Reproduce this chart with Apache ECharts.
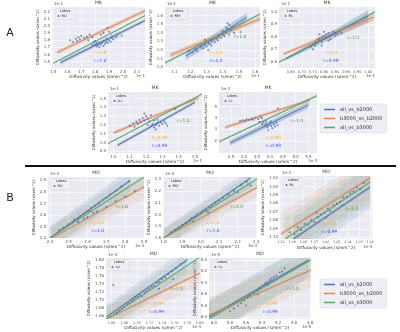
<!DOCTYPE html>
<html>
<head>
<meta charset="utf-8">
<script src="https://cdn.jsdelivr.net/npm/echarts@6/dist/echarts.min.js"></script>
<style>
html,body{margin:0;padding:0;background:#fff}
#chart{width:400px;height:332px}
</style>
</head>
<body>
<div id="chart"></div>
<script>
// ---- data (series order: all_vs_b2000, b3000_vs_b2000, all_vs_b3000)
var seriesNames = ['all_vs_b2000', 'b3000_vs_b2000', 'all_vs_b3000'];

// fits: [x0, y0, x1, y1, ciHalf0, ciHalf1, piHalf]
var a1Points = [[1.62,1.80],[1.64,1.78],[1.66,1.82],[1.67,1.79],[1.68,1.84],[1.69,1.81],[1.70,1.86],[1.72,1.83],[1.74,1.85],[1.76,1.88],[1.75,1.80],[1.78,1.84],[1.79,1.78],[1.80,1.74],[1.81,1.76],[1.81,1.71],[1.82,1.73],[1.83,1.77],[1.83,1.70],[1.84,1.74],[1.85,1.76],[1.86,1.72],[1.86,1.79],[1.87,1.75],[1.88,1.78],[1.88,1.82],[1.89,1.76],[1.90,1.80],[1.90,1.92],[1.91,1.78],[1.92,1.83],[1.89,1.97],[1.93,1.81],[1.95,1.84],[1.84,1.88],[1.86,1.90],[1.78,1.73],[1.80,1.79]];
var a1Fits = [[1.55,1.487,2.157,2.076,0.03,0.025,0],[1.526,1.626,2.157,2.214,0.028,0.028,0],[1.50,1.478,2.157,2.145,0.012,0.012,0]];
var a1R = ['1.0','1.0','1.0'];
var a1XTicks = [1.5,1.6,1.7,1.8,1.9,2.0,2.1];
var a1YTicks = [1.5,1.6,1.7,1.8,1.9,2.0,2.1,2.2];

var a2Points = [[1.19,1.19],[1.21,1.17],[1.23,1.21],[1.24,1.19],[1.26,1.23],[1.27,1.25],[1.28,1.22],[1.29,1.26],[1.30,1.24],[1.31,1.28],[1.32,1.27],[1.33,1.30],[1.33,1.25],[1.34,1.32],[1.35,1.29],[1.36,1.33],[1.37,1.35],[1.37,1.31],[1.38,1.37],[1.39,1.34],[1.40,1.38],[1.40,1.42],[1.41,1.36],[1.42,1.40],[1.42,1.46],[1.43,1.44],[1.44,1.38],[1.44,1.49],[1.45,1.43],[1.46,1.47],[1.47,1.40],[1.43,1.51],[1.51,1.41],[1.29,1.32],[1.31,1.20]];
var a2Fits = [[1.17,1.13,1.55,1.58,0.05,0.05,0],[1.075,1.14,1.631,1.561,0.03,0.03,0],[1.042,1.049,1.631,1.618,0.015,0.015,0]];
var a2R = ['1.0','1.0','1.0'];
var a2XTicks = [1.1,1.2,1.3,1.4,1.5,1.6];
var a2YTicks = [1.0,1.1,1.2,1.3,1.4,1.5,1.6];

var a3Points = [[0.74,0.72],[0.75,0.74],[0.76,0.73],[0.76,0.76],[0.77,0.75],[0.77,0.78],[0.78,0.77],[0.78,0.79],[0.79,0.76],[0.79,0.80],[0.80,0.78],[0.80,0.81],[0.81,0.79],[0.81,0.82],[0.82,0.80],[0.82,0.83],[0.83,0.81],[0.83,0.78],[0.84,0.82],[0.84,0.84],[0.85,0.81],[0.85,0.83],[0.86,0.82],[0.87,0.84],[0.80,0.84],[0.78,0.82],[0.82,0.77],[0.75,0.70],[0.88,0.83],[0.79,0.73]];
var a3Fits = [[0.63,0.625,1.0,0.965,0.01,0.05,0],[0.617,0.662,1.025,0.959,0.012,0.03,0],[0.597,0.597,1.03,1.0,0.01,0.01,0]];
var a3R = ['0.99','1.0','1.0'];
var a3XTicks = [0.65,0.70,0.75,0.80,0.85,0.90,0.95,1.00];
var a3YTicks = [0.6,0.7,0.8,0.9,1.0];

var a4Points = [[1.10,1.19],[1.12,1.22],[1.13,1.18],[1.14,1.24],[1.15,1.21],[1.16,1.26],[1.17,1.23],[1.18,1.28],[1.19,1.25],[1.20,1.30],[1.21,1.27],[1.22,1.24],[1.21,1.20],[1.23,1.19],[1.24,1.21],[1.25,1.17],[1.26,1.20],[1.27,1.22],[1.28,1.19],[1.29,1.23],[1.30,1.21],[1.31,1.24],[1.32,1.22],[1.25,1.25],[1.27,1.26],[1.23,1.31],[1.38,1.38],[1.19,1.33],[1.33,1.19],[1.26,1.15]];
var a4Fits = [[1.025,0.97,1.5,1.457,0.02,0.02,0],[1.0,1.109,1.52,1.506,0.02,0.02,0],[0.967,0.989,1.543,1.55,0.01,0.01,0]];
var a4R = ['0.99','0.99','1.0'];
var a4XTicks = [1.0,1.1,1.2,1.3,1.4,1.5];
var a4YTicks = [0.9,1.0,1.1,1.2,1.3,1.4,1.5];

var a5Points = [[2.85,3.75],[2.95,3.80],[3.05,3.72],[3.10,3.88],[3.20,3.82],[3.30,3.95],[3.35,3.85],[3.45,4.02],[3.55,3.92],[3.65,4.10],[3.70,3.98],[3.60,3.65],[3.70,3.45],[3.75,3.60],[3.80,3.30],[3.85,3.50],[3.90,3.20],[3.95,3.40],[4.00,3.55],[4.05,3.30],[4.10,3.10],[4.15,3.45],[4.20,3.25],[4.25,3.60],[4.30,3.40],[4.32,4.85],[3.95,2.95],[4.05,3.70],[3.85,3.75]];
var a5Fits = [[2.46,1.8,5.5,5.16,0.25,0.3,0],[2.27,3.17,5.56,5.6,0.15,0.15,0],[2.035,1.91,5.83,5.97,0.1,0.1,0]];
var a5R = ['0.99','0.99','1.0'];
var a5XTicks = [2.5,3.0,3.5,4.0,4.5,5.0,5.5];
var a5YTicks = [2,3,4,5];

var b1Points = [[2.45,2.47],[2.47,2.49],[2.50,2.52],[2.52,2.54],[2.53,2.56],[2.55,2.57],[2.56,2.59],[2.58,2.61],[2.60,2.63],[2.61,2.64],[2.62,2.66],[2.64,2.68],[2.66,2.70],[2.68,2.73],[2.70,2.75],[2.72,2.78],[2.75,2.81],[2.78,2.85],[2.82,2.89],[2.55,2.54],[2.60,2.58],[2.65,2.63],[2.70,2.67],[2.75,2.72],[2.80,2.76],[2.85,2.81],[2.58,2.57],[2.63,2.62]];
var b1Fits = [[2.4,2.4,2.827,2.9,0.008,0.01,0.1],[2.41,2.4,2.9,2.844,0.008,0.01,0.1],[2.4,2.4,2.9,2.93,0.006,0.008,0.1]];
var b1R = ['1.0','1.0','1.0'];
var b1XTicks = [2.4,2.5,2.6,2.7,2.8,2.9];
var b1YTicks = [2.4,2.5,2.6,2.7,2.8,2.9];

var b2Points = [[1.84,1.85],[1.86,1.87],[1.88,1.89],[1.90,1.91],[1.92,1.93],[1.94,1.95],[1.95,1.97],[1.97,1.98],[1.98,2.00],[2.00,2.01],[2.01,2.03],[2.03,2.04],[2.05,2.06],[2.06,2.08],[2.08,2.10],[2.10,2.12],[2.12,2.14],[2.15,2.17],[2.18,2.20],[2.22,2.25],[2.25,2.28],[2.27,2.25],[2.20,2.19],[2.04,2.02],[1.96,1.94]];
var b2Fits = [[1.8,1.8,2.27,2.312,0.008,0.01,0.08],[1.8,1.8,2.305,2.23,0.008,0.01,0.08],[1.8,1.8,2.305,2.305,0.006,0.008,0.08]];
var b2R = ['1.0','1.0','1.0'];
var b2XTicks = [1.8,1.9,2.0,2.1,2.2,2.3];
var b2YTicks = [1.8,1.9,2.0,2.1,2.2,2.3];

var b3Points = [[1.092,1.094],[1.088,1.096],[1.085,1.088],[1.082,1.091],[1.079,1.084],[1.076,1.085],[1.073,1.080],[1.070,1.082],[1.067,1.076],[1.064,1.073],[1.061,1.071],[1.058,1.066],[1.056,1.069],[1.053,1.062],[1.050,1.060],[1.047,1.058],[1.044,1.053],[1.041,1.052],[1.038,1.048],[1.035,1.046],[1.032,1.041],[1.029,1.043],[1.026,1.036],[1.060,1.077],[1.045,1.062],[1.068,1.071]];
var b3Fits = [[1.0889,1.102,1.02,1.0407,0.002,0.002,0.025],[1.10,1.096,1.02,1.03,0.002,0.002,0.025],[1.0964,1.102,1.02,1.0347,0.0015,0.0015,0.025]];
var b3R = ['0.99','1.0','1.0'];
var b3XTicks = [1.02,1.03,1.04,1.05,1.06,1.07,1.08,1.09,1.10];
var b3YTicks = [1.03,1.04,1.05,1.06,1.07,1.08,1.09,1.10];

var b4Points = [[1.6625,1.737],[1.668,1.667],[1.672,1.673],[1.676,1.678],[1.680,1.683],[1.684,1.689],[1.688,1.692],[1.692,1.697],[1.695,1.700],[1.698,1.706],[1.702,1.708],[1.705,1.713],[1.708,1.710],[1.712,1.718],[1.716,1.722],[1.720,1.727],[1.724,1.732],[1.728,1.735],[1.732,1.742],[1.736,1.745],[1.740,1.752],[1.745,1.757],[1.750,1.765],[1.756,1.772],[1.762,1.779],[1.770,1.790],[1.758,1.752],[1.735,1.728]];
var b4Fits = [[1.652,1.6575,1.78,1.80,0.003,0.003,0.03],[1.652,1.652,1.80,1.767,0.003,0.003,0.03],[1.652,1.652,1.80,1.807,0.002,0.002,0.03]];
var b4R = ['0.99','0.99','1.0'];
var b4XTicks = [1.66,1.68,1.70,1.72,1.74,1.76,1.78,1.80];
var b4YTicks = [1.66,1.68,1.70,1.72,1.74,1.76,1.78,1.80];

var b5Points = [[5.80,5.90],[5.75,5.85],[5.70,5.80],[5.66,5.76],[5.62,5.71],[5.58,5.66],[5.55,5.62],[5.50,5.58],[5.46,5.52],[5.43,5.49],[5.40,5.45],[5.37,5.42],[5.35,5.40],[5.32,5.38],[5.30,5.35],[5.28,5.32],[5.25,5.30],[5.22,5.27],[5.18,5.22],[5.15,5.20],[5.12,5.15],[5.60,5.80],[5.33,5.44],[5.45,5.60],[5.27,5.36]];
var b5Fits = [[6.06,6.0,4.82,5.0,0.02,0.02,0.3],[6.06,5.965,4.79,5.175,0.02,0.02,0.3],[6.06,6.035,4.79,5.0,0.015,0.015,0.3]];
var b5R = ['0.99','0.99','1.0'];
var b5XTicks = [4.8,5.0,5.2,5.4,5.6,5.8,6.0];
var b5YTicks = [5.0,5.2,5.4,5.6,5.8,6.0];

// ---- layout of the ten panels (pixel boxes and axis windows)
var panels = [
  {box:[52,7,93,61], x:[1.49,2.157], y:[1.41,2.266], xt:a1XTicks, yt:a1YTicks, xd:1, yd:1, title:'MK', exp:'1e-1', lobe:'RU', pts:a1Points, fits:a1Fits, r:a1R, rg:[0.70,0.475], ro:0.52},
  {box:[165,7,95,61], x:[1.042,1.631], y:[0.99,1.70], xt:a2XTicks, yt:a2YTicks, xd:1, yd:1, title:'MK', exp:'1e-1', lobe:'RM', pts:a2Points, fits:a2Fits, r:a2R, rg:[0.79,0.49], ro:0.54},
  {box:[279,7,96,61], x:[0.597,1.03], y:[0.55,1.038], xt:a3XTicks, yt:a3YTicks, xd:2, yd:1, xf:3.6, title:'MK', exp:'1e-1', lobe:'RL', pts:a3Points, fits:a3Fits, r:a3R, rg:[0.77,0.50], ro:0.54},
  {box:[108,92,94,61], x:[0.967,1.543], y:[0.882,1.574], xt:a4XTicks, yt:a4YTicks, xd:1, yd:1, title:'MK', exp:'1e-1', lobe:'LU', pts:a4Points, fits:a4Fits, r:a4R, rg:[0.80,0.475], ro:0.55},
  {box:[219,92,98,61], x:[2.035,5.83], y:[0.92,6.3], xt:a5XTicks, yt:a5YTicks, xd:1, yd:0, title:'MK', exp:'1e-3', lobe:'LL', pts:a5Points, fits:a5Fits, r:a5R, rg:[0.795,0.475], ro:0.556},
  {box:[48,177,96,61], x:[2.39,2.9], y:[2.4,2.93], xt:b1XTicks, yt:b1YTicks, xd:1, yd:1, title:'MD', exp:'1e-4', lobe:'RU', pts:b1Points, fits:b1Fits, r:b1R, rg:[0.767,0.485], ro:0.52},
  {box:[163,177,94,61], x:[1.796,2.305], y:[1.8,2.32], xt:b2XTicks, yt:b2YTicks, xd:1, yd:1, title:'MD', exp:'1e-4', lobe:'RM', pts:b2Points, fits:b2Fits, r:b2R, rg:[0.786,0.49], ro:0.535},
  {box:[280,176,92,63], x:[1.0184,1.1009], y:[1.0276,1.102], inv:true, xt:b3XTicks, yt:b3YTicks, xd:2, yd:2, xf:3.3, title:'MD', exp:'1e-4', lobe:'RL', pts:b3Points, fits:b3Fits, r:b3R, rg:[0.78,0.52], ro:0.54},
  {box:[106,258,95,61], x:[1.651,1.802], y:[1.652,1.805], xt:b4XTicks, yt:b4YTicks, xd:2, yd:2, xf:3.5, title:'MD', exp:'1e-4', lobe:'LU', pts:b4Points, fits:b4Fits, r:b4R, rg:[0.744,0.50], ro:0.53},
  {box:[209,258,102,61], x:[4.79,6.06], y:[4.965,6.035], inv:true, xt:b5XTicks, yt:b5YTicks, xd:1, yd:1, title:'MD', exp:'1e-5', lobe:'LL', pts:b5Points, fits:b5Fits, r:b5R, rg:[0.82,0.51], ro:0.6}
];

var lineColors = ['#4c72b0', '#dd8452', '#55a868'];
var rColors = ['#4040ff', '#ffae1a', '#3a9e3a'];
var FONT = 'DejaVu Sans';

function renderBand(params, api) {
  var x0 = api.value(0), y0 = api.value(1), x1 = api.value(2), y1 = api.value(3);
  var c0 = api.value(4), c1 = api.value(5), w = api.value(6);
  var col = api.visual('color');
  function poly(a, b) {
    return [api.coord([x0, y0 - a]), api.coord([x1, y1 - b]), api.coord([x1, y1 + b]), api.coord([x0, y0 + a])];
  }
  var kids = [];
  if (w > 0) kids.push({type: 'polygon', shape: {points: poly(w, w)}, style: {fill: col, opacity: 0.12}});
  kids.push({type: 'polygon', shape: {points: poly(c0, c1)}, style: {fill: col, opacity: 0.3}});
  var cs = params.coordSys;
  return {type: 'group', children: kids, clipPath: {type: 'rect', shape: {x: cs.x, y: cs.y, width: cs.width, height: cs.height}}};
}

var grids = [], xAxes = [], yAxes = [], series = [], graphics = [];

panels.forEach(function (p, i) {
  var L = p.box[0], T = p.box[1], W = p.box[2], H = p.box[3];
  grids.push({left: L, top: T, width: W, height: H, show: true, backgroundColor: '#eaeaf2', borderWidth: 0});
  xAxes.push({
    type: 'value', gridIndex: i, min: p.x[0], max: p.x[1], inverse: !!p.inv,
    name: 'Diffusivity values (s/mm^2)', nameLocation: 'middle', nameGap: 7,
    nameTextStyle: {fontSize: 4.2, color: '#333', fontFamily: FONT},
    axisLine: {show: false}, axisTick: {show: false, customValues: p.xt},
    axisLabel: {customValues: p.xt, fontSize: p.xf || 4, color: '#555', margin: 2, fontFamily: FONT,
      formatter: function (v) { return v.toFixed(p.xd); }},
    splitLine: {show: true, lineStyle: {color: '#ffffff', width: 0.6}}
  });
  yAxes.push({
    type: 'value', gridIndex: i, min: p.y[0], max: p.y[1], inverse: !!p.inv,
    name: 'Diffusivity values (s/mm^2)', nameLocation: 'middle', nameGap: 11,
    nameTextStyle: {fontSize: 4, color: '#333', fontFamily: FONT},
    axisLine: {show: false}, axisTick: {show: false, customValues: p.yt},
    axisLabel: {customValues: p.yt, fontSize: 4, color: '#555', margin: 2, fontFamily: FONT,
      formatter: function (v) { return v.toFixed(p.yd); }},
    splitLine: {show: true, lineStyle: {color: '#ffffff', width: 0.6}}
  });
  series.push({
    type: 'custom', xAxisIndex: i, yAxisIndex: i, silent: true, z: 2,
    renderItem: renderBand,
    data: p.fits.map(function (f, k) { return {value: f, itemStyle: {color: lineColors[k]}}; })
  });
  p.fits.forEach(function (f, k) {
    series.push({
      type: 'line', name: seriesNames[k], xAxisIndex: i, yAxisIndex: i, silent: true, z: 3,
      symbol: 'none', clip: true,
      data: [[f[0], f[1]], [f[2], f[3]]],
      lineStyle: {color: lineColors[k], width: 1}, itemStyle: {color: lineColors[k]}
    });
  });
  series.push({
    type: 'scatter', name: p.lobe, xAxisIndex: i, yAxisIndex: i, silent: true, z: 4,
    symbolSize: 2, data: p.pts, itemStyle: {color: '#4c72b0', opacity: 0.85}
  });

  // panel texts
  graphics.push({type: 'text', x: L + W / 2, y: T - 1.5, style: {text: p.title, fill: '#333', font: '4.6px ' + FONT, align: 'center', verticalAlign: 'bottom'}});
  graphics.push({type: 'text', x: L + 2, y: T - 1, style: {text: p.exp, fill: '#555', font: '4px ' + FONT, align: 'left', verticalAlign: 'bottom'}});
  graphics.push({type: 'text', x: L + W, y: T + H + 8, style: {text: p.exp, fill: '#555', font: '4px ' + FONT, align: 'right', verticalAlign: 'middle'}});
  graphics.push({type: 'rect', shape: {x: L + 3, y: T + 1.5, width: 20, height: 11, r: 1}, style: {fill: '#eeeef4', stroke: '#d4d4dc', lineWidth: 0.5}, z: 10});
  graphics.push({type: 'text', x: L + 13, y: T + 4.5, style: {text: 'Lobes', fill: '#333', font: '3.6px ' + FONT, align: 'center', verticalAlign: 'middle'}, z: 11});
  graphics.push({type: 'circle', shape: {cx: L + 6.5, cy: T + 9, r: 1}, style: {fill: '#4c72b0'}, z: 11});
  graphics.push({type: 'text', x: L + 9.5, y: T + 9, style: {text: p.lobe, fill: '#333', font: '3.6px ' + FONT, align: 'left', verticalAlign: 'middle'}, z: 11});
  var rPos = [[p.ro, 0.885], [p.ro, 0.755], p.rg];
  for (var k = 0; k < 3; k++) {
    graphics.push({type: 'text', x: L + W * rPos[k][0], y: T + H * rPos[k][1], z: 12,
      style: {text: 'r=' + p.r[k], fill: rColors[k], font: '4.4px ' + FONT, align: 'center', verticalAlign: 'middle'}});
  }
});

graphics.push({type: 'text', x: 10, y: 33, style: {text: 'A', fill: '#222', font: '11px ' + FONT, align: 'center', verticalAlign: 'middle'}});
graphics.push({type: 'text', x: 10, y: 198, style: {text: 'B', fill: '#222', font: '11px ' + FONT, align: 'center', verticalAlign: 'middle'}});
graphics.push({type: 'line', shape: {x1: 25, y1: 166, x2: 396, y2: 166}, style: {stroke: '#111', lineWidth: 2}});

var legendBase = {
  orient: 'vertical', left: 320, data: seriesNames, icon: 'rect', itemWidth: 11, itemHeight: 1.5, itemGap: 4,
  textStyle: {fontSize: 5, color: '#333', fontFamily: FONT}, backgroundColor: '#eeeef4',
  borderColor: '#d0d0d8', borderWidth: 0.5, borderRadius: 2, padding: [3, 4, 3, 4], selectedMode: false
};

var myChart = echarts.init(document.getElementById('chart'), null, {renderer: 'canvas'});
myChart.setOption({
  animation: false,
  backgroundColor: '#fff',
  grid: grids,
  xAxis: xAxes,
  yAxis: yAxes,
  legend: [
    Object.assign({}, legendBase, {top: 104}),
    Object.assign({}, legendBase, {top: 279})
  ],
  series: series,
  graphic: graphics
});
</script>
</body>
</html>
